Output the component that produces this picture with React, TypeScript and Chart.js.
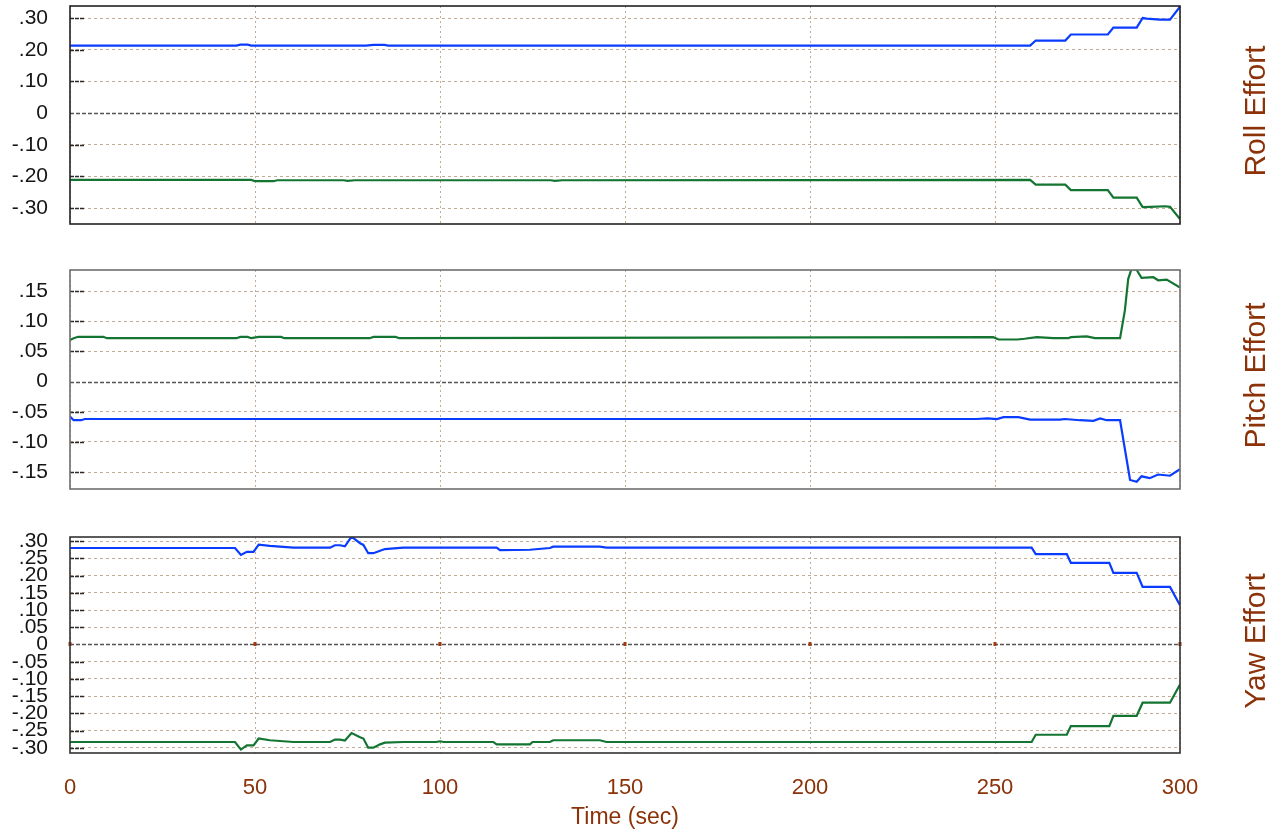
import React, { useEffect, useRef } from 'react';
import { Chart, registerables } from 'chart.js';

Chart.register(...registerables);

// ---------- axis ticks ----------
const timeTicks = [0, 50, 100, 150, 200, 250, 300];
const timeTickLabels = ['0', '50', '100', '150', '200', '250', '300'];

const rollTicks = [-0.3, -0.2, -0.1, 0, 0.1, 0.2, 0.3];
const rollTickLabels = ['-.30', '-.20', '-.10', '0', '.10', '.20', '.30'];

const pitchTicks = [-0.15, -0.1, -0.05, 0, 0.05, 0.1, 0.15];
const pitchTickLabels = ['-.15', '-.10', '-.05', '0', '.05', '.10', '.15'];

const yawTicks = [-0.3, -0.25, -0.2, -0.15, -0.1, -0.05, 0, 0.05, 0.1, 0.15, 0.2, 0.25, 0.3];
const yawTickLabels = ['-.30', '-.25', '-.20', '-.15', '-.10', '-.05', '0', '.05', '.10', '.15', '.20', '.25', '.30'];

// ---------- Roll Effort ----------
const rollBlueT = [0, 45, 46, 48, 49, 80, 82, 85, 86, 259.5, 261, 269, 270.5, 280.5, 282, 288.3, 289.9, 291, 294.5, 297.3, 300];
const rollBlueV = [0.213, 0.213, 0.216, 0.216, 0.213, 0.213, 0.215, 0.215, 0.213, 0.213, 0.229, 0.229, 0.248, 0.248, 0.270, 0.270, 0.300, 0.298, 0.295, 0.295, 0.336];
const rollGreenT = [0, 49, 50, 55, 56, 74, 75, 77, 130, 131, 133, 259.5, 261, 269, 270.5, 280.5, 282, 288.3, 289.9, 292, 296, 297.3, 300];
const rollGreenV = [-0.211, -0.211, -0.215, -0.215, -0.212, -0.212, -0.214, -0.212, -0.212, -0.214, -0.212, -0.211, -0.226, -0.226, -0.243, -0.243, -0.267, -0.267, -0.297, -0.296, -0.294, -0.296, -0.334];

// ---------- Pitch Effort ----------
const pitchGreenT = [0, 1, 2.2, 9, 10, 45, 46, 48, 49, 51, 57, 58, 81, 82, 88, 89, 249.5, 251, 256, 258, 261.3, 265.8, 269.8, 270.5, 274.8, 277, 283.8, 285.1, 286, 286.9, 288.3, 289.6, 292.8, 294.1, 296.4, 300];
const pitchGreenV = [0.069, 0.072, 0.0743, 0.0743, 0.072, 0.072, 0.074, 0.074, 0.072, 0.074, 0.074, 0.072, 0.072, 0.074, 0.074, 0.072, 0.0736, 0.0698, 0.0698, 0.071, 0.0736, 0.072, 0.072, 0.0736, 0.075, 0.072, 0.072, 0.118, 0.17, 0.187, 0.185, 0.172, 0.173, 0.168, 0.169, 0.156];
const pitchBlueT = [0, 1, 3, 4, 245, 248, 250.5, 252.3, 256.3, 259.5, 267.6, 268.9, 273, 276.6, 278.4, 280.2, 283.8, 284.7, 285.6, 286.5, 288.3, 289.6, 291.8, 294.1, 297.3, 300];
const pitchBlueV = [-0.058, -0.064, -0.064, -0.062, -0.062, -0.061, -0.062, -0.059, -0.059, -0.063, -0.063, -0.062, -0.064, -0.065, -0.061, -0.064, -0.064, -0.097, -0.13, -0.163, -0.166, -0.157, -0.16, -0.154, -0.156, -0.145];

// ---------- Yaw Effort ----------
const yawBlueT = [0, 44.6, 46.2, 47.8, 49.6, 51, 54, 60.4, 70.3, 71.6, 73, 74.3, 76.1, 78.4, 79.3, 80.6, 82, 83.8, 85.1, 90.1, 115.3, 116.2, 124.3, 129.7, 130.6, 143.2, 145, 259.9, 261, 269.4, 270.5, 280.9, 282, 288.3, 289.9, 297.3, 300];
const yawBlueV = [0.280, 0.280, 0.260, 0.269, 0.269, 0.290, 0.286, 0.281, 0.281, 0.288, 0.288, 0.285, 0.313, 0.294, 0.289, 0.265, 0.265, 0.272, 0.277, 0.281, 0.281, 0.274, 0.275, 0.280, 0.284, 0.284, 0.281, 0.281, 0.2625, 0.2625, 0.237, 0.237, 0.208, 0.208, 0.167, 0.167, 0.114];
const yawGreenT = [0, 44.6, 46.2, 47.8, 49.6, 51, 54, 60.4, 70.3, 71.6, 73, 74.3, 76.1, 78.4, 79.3, 80.6, 82, 83.8, 85.1, 90.1, 99, 100, 101, 114.4, 115.3, 124.3, 125, 129.7, 130.6, 143.2, 145, 259.9, 261, 269.4, 270.5, 280.9, 282, 288.3, 289.9, 297.3, 300];
const yawGreenV = [-0.283, -0.283, -0.305, -0.293, -0.293, -0.273, -0.278, -0.283, -0.283, -0.276, -0.276, -0.279, -0.257, -0.269, -0.273, -0.2995, -0.2995, -0.290, -0.285, -0.283, -0.283, -0.281, -0.283, -0.283, -0.290, -0.290, -0.283, -0.283, -0.278, -0.278, -0.283, -0.283, -0.262, -0.262, -0.237, -0.237, -0.207, -0.207, -0.169, -0.169, -0.116];

const BLUE = '#0a3cff';
const GREEN = '#137531';
const BROWN = '#8b3208';
const GRID = 'rgba(185,158,130,0.85)';
const FONT = '"Liberation Sans", Arial, Helvetica, sans-serif';

const toPoints = (t: number[], v: number[]) => t.map((x, i) => ({ x, y: v[i] }));

const decorPlugin = {
  id: 'panelDecor',
  beforeDatasetsDraw(chart: any, _args: any, opts: any) {
    const { ctx, chartArea: a, scales } = chart;
    const x = scales.x;
    const y = scales.y;
    ctx.save();
    const y0 = y.getPixelForValue(0);
    // inner tick marks at left
    ctx.strokeStyle = '#2a2a2a';
    ctx.lineWidth = 1.5;
    ctx.setLineDash([4, 1]);
    for (const v of opts.ticks as number[]) {
      if (v === 0) continue;
      const py = Math.round(y.getPixelForValue(v)) + 0.5;
      ctx.beginPath();
      ctx.moveTo(a.left, py);
      ctx.lineTo(a.left + 15, py);
      ctx.stroke();
    }
    // zero line
    ctx.strokeStyle = '#555555';
    ctx.lineWidth = 1.6;
    ctx.setLineDash([4, 2]);
    ctx.beginPath();
    ctx.moveTo(a.left, Math.round(y0) + 0.5);
    ctx.lineTo(a.right, Math.round(y0) + 0.5);
    ctx.stroke();
    ctx.setLineDash([]);
    if (opts.markers) {
      ctx.fillStyle = '#a03a10';
      for (const v of timeTicks) {
        const px = x.getPixelForValue(v);
        ctx.fillRect(px - 1.5, y0 - 2.5, 3, 4);
      }
    }
    ctx.restore();
  },
  afterDraw(chart: any, _args: any, opts: any) {
    const { ctx, chartArea: a } = chart;
    ctx.save();
    ctx.strokeStyle = opts.borderColor;
    ctx.lineWidth = 1.6;
    ctx.strokeRect(a.left, a.top, a.right - a.left, a.bottom - a.top);
    ctx.translate(opts.labelX, (a.top + a.bottom) / 2 - 4);
    ctx.rotate(-Math.PI / 2);
    ctx.fillStyle = BROWN;
    ctx.font = `30px ${FONT}`;
    ctx.textAlign = 'center';
    ctx.textBaseline = 'middle';
    ctx.fillText(opts.label, 0, 0);
    ctx.restore();
  },
};

interface PanelProps {
  top: number;
  height: number;
  padTop: number;
  xHeight: number;
  yMin: number;
  yMax: number;
  ticks: number[];
  tickLabels: string[];
  blue: { x: number; y: number }[];
  green: { x: number; y: number }[];
  label: string;
  showX: boolean;
  borderColor: string;
}

function Panel(p: PanelProps) {
  const ref = useRef<HTMLCanvasElement | null>(null);
  useEffect(() => {
    if (!ref.current) return;
    const blueDs = { data: p.blue, borderColor: BLUE, borderWidth: 2.2, pointRadius: 0, tension: 0 };
    const greenDs = { data: p.green, borderColor: GREEN, borderWidth: 2.2, pointRadius: 0, tension: 0 };
    const chart = new Chart(ref.current, {
      type: 'line',
      data: { datasets: [blueDs, greenDs] } as any,
      plugins: [decorPlugin as any],
      options: {
        responsive: false,
        maintainAspectRatio: false,
        animation: false,
        layout: { padding: { top: p.padTop, right: 98, left: 0, bottom: 0 } },
        plugins: {
          legend: { display: false },
          tooltip: { enabled: false },
          panelDecor: { ticks: p.ticks, label: p.label, labelX: 1257, markers: p.showX, borderColor: p.borderColor },
        } as any,
        scales: {
          x: {
            type: 'linear',
            min: 0,
            max: 300,
            afterBuildTicks: (s: any) => {
              s.ticks = timeTicks.map((v) => ({ value: v }));
            },
            afterFit: (s: any) => {
              s.height = p.xHeight;
              s.paddingLeft = 0;
              s.paddingRight = 0;
            },
            grid: { color: GRID, lineWidth: 1, drawTicks: false },
            border: { display: false, dash: [2, 3] },
            ticks: {
              display: p.showX,
              autoSkip: false,
              padding: 22,
              color: BROWN,
              font: { family: FONT, size: 22 },
              maxRotation: 0,
              callback: (_v: any, i: number) => timeTickLabels[i],
            },
            title: {
              display: p.showX,
              text: 'Time (sec)',
              color: BROWN,
              font: { family: FONT, size: 23 },
              padding: { top: 0, bottom: 1 },
            },
          },
          y: {
            type: 'linear',
            min: p.yMin,
            max: p.yMax,
            afterBuildTicks: (s: any) => {
              s.ticks = p.ticks.map((v) => ({ value: v }));
            },
            afterFit: (s: any) => {
              s.width = 70;
              s.paddingTop = 0;
              s.paddingBottom = 0;
            },
            grid: {
              color: (c: any) => (c.tick && c.tick.value === 0 ? 'rgba(0,0,0,0)' : GRID),
              lineWidth: 1,
              drawTicks: false,
            },
            border: { display: false, dash: [3, 3] },
            ticks: {
              autoSkip: false,
              padding: 22,
              color: '#151515',
              font: { family: FONT, size: 21 },
              callback: (_v: any, i: number) => p.tickLabels[i],
            },
          },
        },
      } as any,
    });
    return () => chart.destroy();
  }, []);
  return (
    <div style={{ position: 'absolute', left: 0, top: p.top, width: 1278, height: p.height }}>
      <canvas ref={ref} width={1278} height={p.height} style={{ display: 'block', width: 1278, height: p.height }} />
    </div>
  );
}

export default function App() {
  return (
    <div style={{ position: 'absolute', left: 0, top: 0, width: 1278, height: 832, background: '#ffffff', overflow: 'hidden' }}>
      <Panel
        top={0}
        height={240}
        padTop={6}
        xHeight={16}
        yMin={-0.35}
        yMax={0.338}
        ticks={rollTicks}
        tickLabels={rollTickLabels}
        blue={toPoints(rollBlueT, rollBlueV)}
        green={toPoints(rollGreenT, rollGreenV)}
        label="Roll Effort"
        showX={false}
        borderColor="#222222"
      />
      <Panel
        top={240}
        height={260}
        padTop={30}
        xHeight={11}
        yMin={-0.178}
        yMax={0.185}
        ticks={pitchTicks}
        tickLabels={pitchTickLabels}
        blue={toPoints(pitchBlueT, pitchBlueV)}
        green={toPoints(pitchGreenT, pitchGreenV)}
        label="Pitch Effort"
        showX={false}
        borderColor="#6e6e6e"
      />
      <Panel
        top={500}
        height={332}
        padTop={37}
        xHeight={79}
        yMin={-0.315}
        yMax={0.312}
        ticks={yawTicks}
        tickLabels={yawTickLabels}
        blue={toPoints(yawBlueT, yawBlueV)}
        green={toPoints(yawGreenT, yawGreenV)}
        label="Yaw Effort"
        showX={true}
        borderColor="#333333"
      />
    </div>
  );
}
